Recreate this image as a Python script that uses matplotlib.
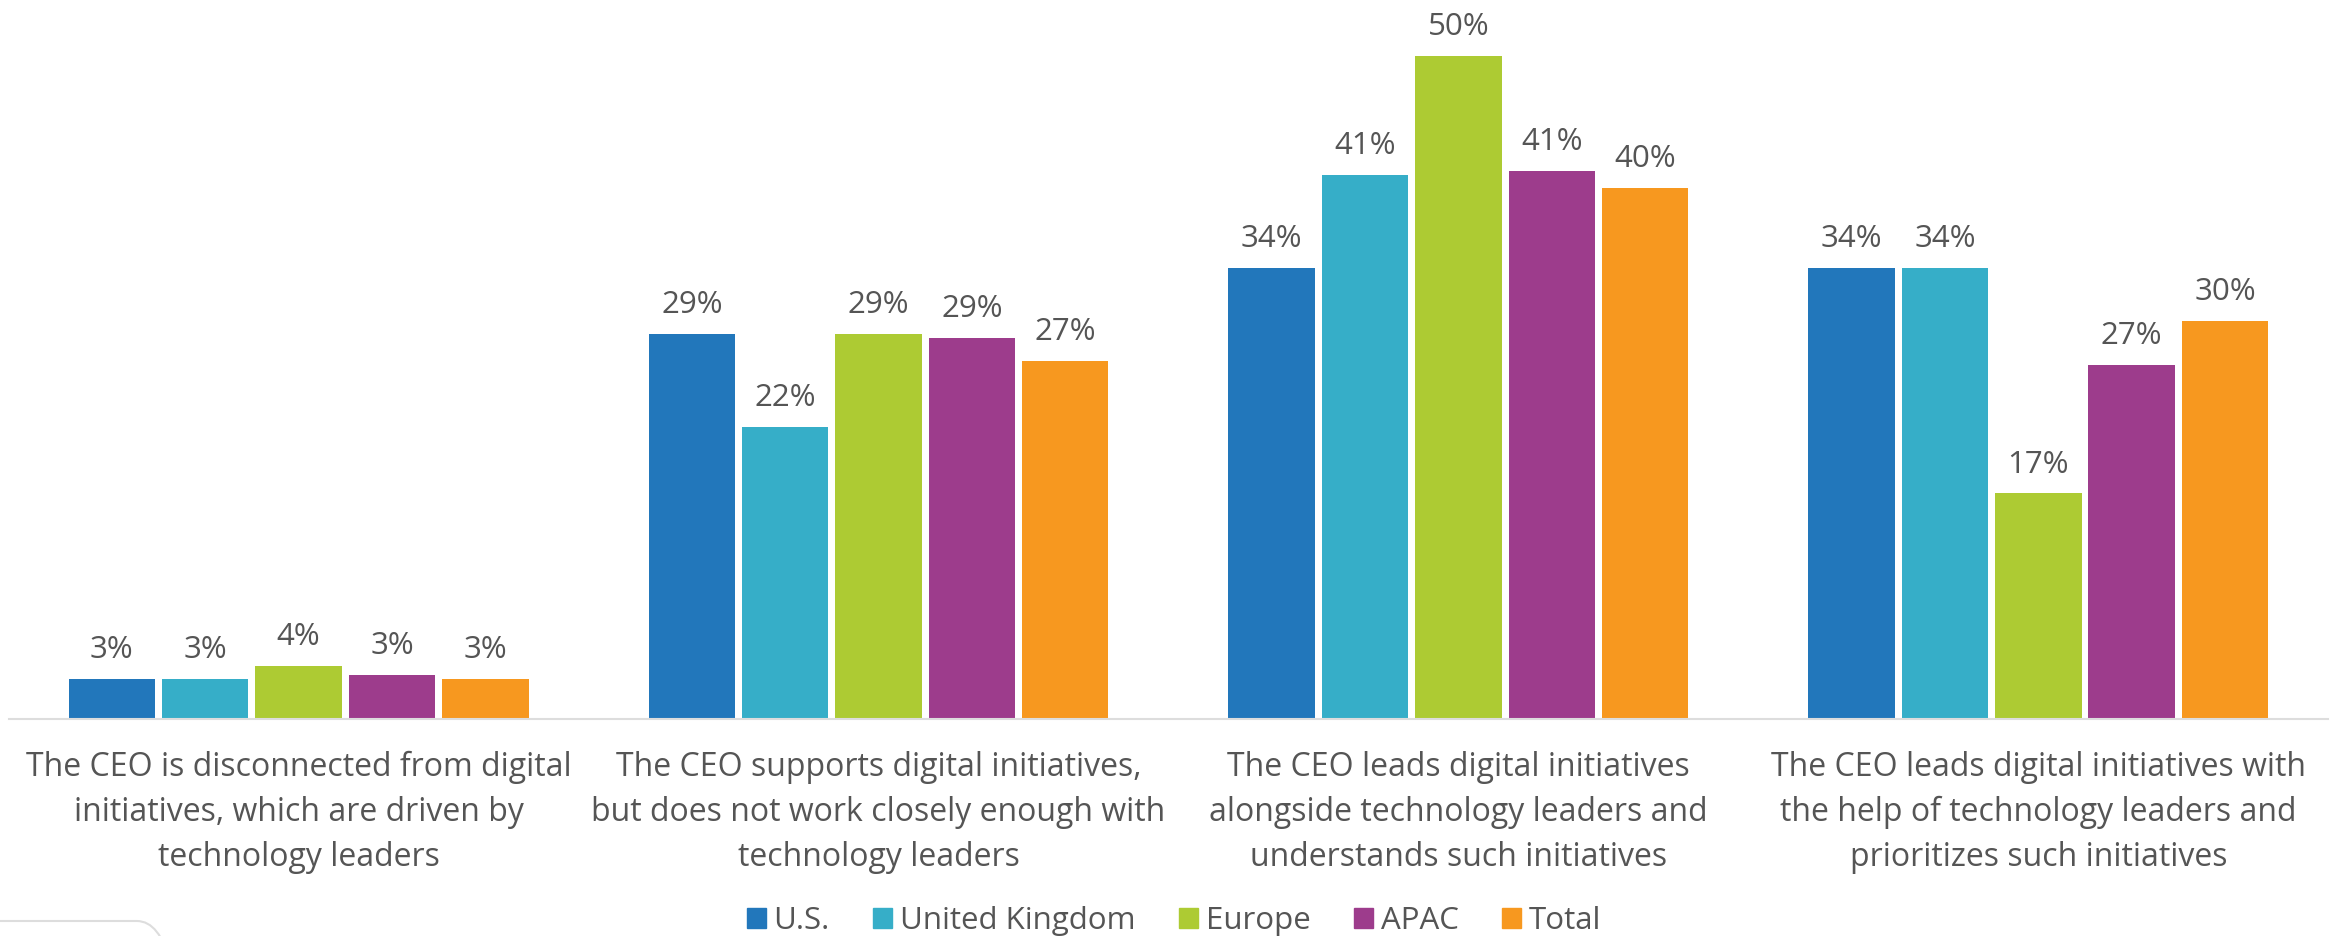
import matplotlib
matplotlib.use("Agg")
import matplotlib.pyplot as plt
import matplotlib.patches as mpatches
from matplotlib.transforms import IdentityTransform
import numpy as np

plt.rcParams['font.family'] = ['Open Sans', 'DejaVu Sans']

categories = [
    "The CEO is disconnected from digital\ninitiatives, which are driven by\ntechnology leaders",
    "The CEO supports digital initiatives,\nbut does not work closely enough with\ntechnology leaders",
    "The CEO leads digital initiatives\nalongside technology leaders and\nunderstands such initiatives",
    "The CEO leads digital initiatives with\nthe help of technology leaders and\nprioritizes such initiatives",
]
series = ["U.S.", "United Kingdom", "Europe", "APAC", "Total"]
us = [3.0, 29.0, 34.0, 34.0]
uk = [3.0, 22.0, 41.0, 34.0]
europe = [4.0, 29.0, 50.0, 17.0]
apac = [3.3, 28.7, 41.3, 26.7]
total = [3.0, 27.0, 40.0, 30.0]
colors = ["#2277BB", "#36AEC8", "#ADCB33", "#9D3C8C", "#F7981F"]

text_color = "#555555"

fig = plt.figure(figsize=(23.36, 9.36), dpi=100)
ax = fig.add_axes([0.0037, 0.2318, 0.993, 0.7656])

x = np.arange(len(categories))
step = 0.161
width = 0.149
for j, (name, vals) in enumerate(zip(series, [us, uk, europe, apac, total])):
    pos = x + (j - 2) * step
    ax.bar(pos, vals, width, color=colors[j], label=name)
    for xi, v in zip(pos, vals):
        ax.annotate(f"{v:.0f}%", xy=(xi, v), xytext=(0, 15), textcoords="offset points",
                    ha="center", va="baseline", fontsize=22.5, color=text_color)

ax.set_xlim(-0.5, len(categories) - 0.5)
ax.set_ylim(0, 54)
ax.set_yticks([])
ax.set_xticks([])
for s in ["top", "right", "left"]:
    ax.spines[s].set_visible(False)
ax.spines["bottom"].set_color("#DDDDDD")
ax.spines["bottom"].set_linewidth(1.5)

for xi, lab in zip(x, categories):
    ax.annotate(lab, xy=(xi, 0), xycoords=("data", "axes fraction"),
                xytext=(0, -23), textcoords="offset points",
                ha="center", va="top", fontsize=23, color=text_color,
                linespacing=1.48, multialignment="center")

handles = [mpatches.Patch(color=c) for c in colors]
fig.legend(handles, series, loc="lower center", bbox_to_anchor=(0.5026, 0.0),
           ncol=5, frameon=False, fontsize=22.5, handlelength=0.6, handleheight=0.6,
           handletextpad=0.25, columnspacing=1.4, borderaxespad=0, borderpad=0,
           labelcolor=text_color)

# faint rounded frame peeking in at the bottom-left corner
corner = mpatches.FancyBboxPatch((-300, -200), 482, 215,
                                 boxstyle="round,pad=0,rounding_size=45",
                                 transform=IdentityTransform(), facecolor="none",
                                 edgecolor="#DDDDDD", lw=1.5)
fig.add_artist(corner)

fig.savefig("out.png", dpi=100)
